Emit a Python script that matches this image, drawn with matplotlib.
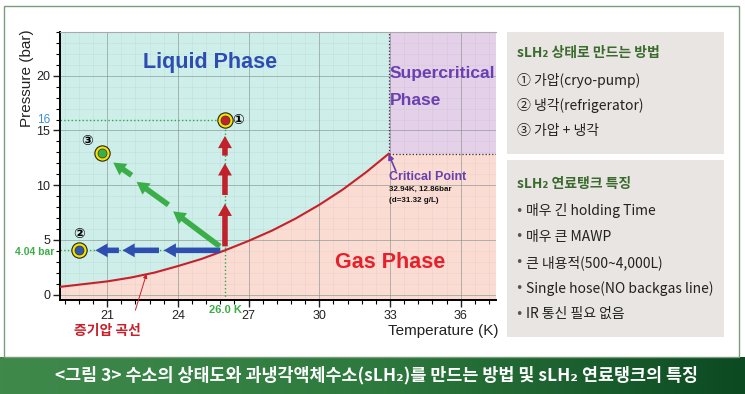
import numpy as np
import matplotlib
matplotlib.use('Agg')
import matplotlib.pyplot as plt
from matplotlib.patches import Rectangle, FancyArrowPatch
from matplotlib.ticker import MultipleLocator
import matplotlib.transforms as mtransforms

plt.rcParams['font.family'] = ['Liberation Sans', 'Noto Sans CJK KR', 'DejaVu Sans']
KR = ['Noto Sans CJK KR', 'DejaVu Sans']

# 증기압 곡선 (읽은 값)
vap_T = [19, 20, 21, 22, 23, 24, 25, 26, 27, 28, 29, 30, 31, 32, 32.94]
vap_P = [0.7, 0.95, 1.2, 1.55, 2.0, 2.6, 3.25, 4.04, 4.9, 5.85, 6.95, 8.2, 9.6, 11.2, 12.86]
crit_T, crit_P = 32.94, 12.86

# 상태점 ① ② ③
pt_T = [26.0, 19.8, 20.8]
pt_P = [16.0, 4.04, 12.9]
pt_col = ['#c8202a', '#2f55b5', '#3cae49']
pt_lab = ['①', '②', '③']
lab_T = [26.55, 19.82, 20.13]
lab_P = [16.0, 5.5, 14.0]

start_T, start_P = 26.0, 4.04

# 화살표 구간 (시작, 끝)
red_arrows = [((26, 4.4), (26, 8.3)), ((26, 9.1), (26, 12.0)), ((26, 12.7), (26, 14.5))]
blue_arrows = [((25.8, 4.04), (23.4, 4.04)), ((23.2, 4.04), (21.65, 4.04)), ((21.5, 4.04), (20.5, 4.04))]
green_arrows = [((25.78, 4.4), (23.8, 7.6)), ((23.6, 8.2), (22.25, 10.3)), ((22.04, 10.9), (21.26, 12.06))]

x_ticks = [21, 24, 27, 30, 33, 36]
y_ticks = [0, 5, 10, 15, 20]
xlim = (19, 37.5)
ylim = (-0.5, 24)

box1_title = 'sLH₂ 상태로 만드는 방법'
box1_items = ['① 가압(cryo-pump)', '② 냉각(refrigerator)', '③ 가압 + 냉각']
box2_title = 'sLH₂ 연료탱크 특징'
box2_items = ['매우 긴 holding Time', '매우 큰 MAWP', '큰 내용적(500~4,000L)',
              'Single hose(NO backgas line)', 'IR 통신 필요 없음']
caption = '<그림 3> 수소의 상태도와 과냉각액체수소(sLH₂)를 만드는 방법 및 sLH₂ 연료탱크의 특징'

fig = plt.figure(figsize=(7.45, 3.94), dpi=100)
fig.patch.set_facecolor('white')

# outer frame
fig.patches.append(Rectangle((4/745, 1-357/394), 735/745, 351/394, transform=fig.transFigure,
                             fill=False, edgecolor='#7d9a7d', lw=1.0))

ax = fig.add_axes([60/745, 1-300/394, 436/745, 268/394])
ax.set_facecolor('#cdeee9')
ax.set_xlim(*xlim)
ax.set_ylim(*ylim)

# regions
ax.fill_between(vap_T, ylim[0], vap_P, color='#fbdcd3', lw=0, zorder=0.5)
ax.fill_between([crit_T, xlim[1]], ylim[0], crit_P, color='#fbdcd3', lw=0, zorder=0.5)
ax.fill_between([crit_T, xlim[1]], crit_P, ylim[1], color='#e4d0e9', lw=0, zorder=0.5)
ax.plot([crit_T, crit_T], [crit_P, ylim[1]], ls=':', color='#333333', lw=0.9, zorder=2)
ax.plot([crit_T, xlim[1]], [crit_P, crit_P], ls=':', color='#333333', lw=0.9, zorder=2)

ax.xaxis.set_minor_locator(MultipleLocator(0.6))
ax.yaxis.set_minor_locator(MultipleLocator(1))
ax.set_xticks(x_ticks)
ax.set_yticks(y_ticks)
ax.grid(which='major', color='#7f8f8c', lw=0.7, alpha=0.6, zorder=1)
ax.grid(which='minor', color='#9aa8a6', lw=0.4, alpha=0.2, zorder=1)
ax.set_axisbelow(True)
ax.tick_params(which='major', direction='out', length=5, width=1, labelsize=9, colors='#222222', pad=2)
ax.tick_params(which='minor', direction='out', length=3, width=0.8)
ax.spines['right'].set_visible(False)
ax.spines['top'].set_color('#aaaaaa')
ax.spines['left'].set_linewidth(1.4)
ax.spines['bottom'].set_linewidth(1.4)

# vapor curve
ax.plot(vap_T, vap_P, color='#c8202a', lw=1.5, zorder=3)

# guide lines
ax.plot([xlim[0], pt_T[0]], [pt_P[0], pt_P[0]], ls=':', color='#2fa84a', lw=1, zorder=2)
ax.plot([start_T, start_T], [ylim[0], pt_P[0]], ls=':', color='#2fa84a', lw=1, zorder=2)
ax.plot([xlim[0], start_T], [start_P, start_P], ls=':', color='#2fa84a', lw=1, zorder=2)

def draw_arrows(segs, color):
    for (x0, y0), (x1, y1) in segs:
        a = FancyArrowPatch((x0, y0), (x1, y1),
                            arrowstyle='simple,head_width=1.25,head_length=1.1,tail_width=0.5',
                            mutation_scale=8, color=color, lw=0, shrinkA=0, shrinkB=0, zorder=4)
        ax.add_patch(a)

draw_arrows(red_arrows, '#c0212b')
draw_arrows(blue_arrows, '#2f4fb0')
draw_arrows(green_arrows, '#3cae49')

for t, p, c in zip(pt_T, pt_P, pt_col):
    ax.plot(t, p, 'o', ms=11, mfc='#f3e500', mec='#222222', mew=0.8, zorder=5)
    ax.plot(t, p, 'o', ms=6.5, mfc=c, mec='#333333', mew=0.5, zorder=6)
for t, p, l in zip(lab_T, lab_P, pt_lab):
    ax.text(t, p, l, fontsize=10, ha='center', va='center', fontweight='bold',
            family=['DejaVu Sans'], zorder=6)

# phase labels
ax.text(25.35, 21.2, 'Liquid Phase', color='#2e4db3', fontsize=15.5, fontweight='bold',
        ha='center', va='center', zorder=6)
ax.text(33.0, 20.2, 'Supercritical', color='#6a3fb0', fontsize=12.5, fontweight='bold',
        ha='left', va='center', zorder=6)
ax.text(33.0, 17.7, 'Phase', color='#6a3fb0', fontsize=12.5, fontweight='bold',
        ha='left', va='center', zorder=6)
ax.text(33.0, 2.9, 'Gas Phase', color='#e8202a', fontsize=15.5, fontweight='bold',
        ha='center', va='center', zorder=6)

# critical point
ax.annotate('', xy=(crit_T, crit_P), xytext=(33.25, 11.3),
            arrowprops=dict(arrowstyle='-|>', color='#6a3fb0', lw=1.2, mutation_scale=8,
                            shrinkA=0, shrinkB=0), zorder=6)
ax.text(32.95, 10.75, 'Critical Point', color='#6a3fb0', fontsize=9, fontweight='bold',
        ha='left', va='center', zorder=6)
ax.text(32.95, 9.6, '32.94K, 12.86bar', color='#111111', fontsize=5.8, fontweight='bold',
        ha='left', va='center', zorder=6)
ax.text(32.95, 8.6, '(d=31.32 g/L)', color='#111111', fontsize=5.8, fontweight='bold',
        ha='left', va='center', zorder=6)

# vapor curve label
ax.annotate('증기압 곡선', xy=(22.67, 1.88), xytext=(21.03, -3.3), annotation_clip=False,
            color='#c8202a', fontsize=10, fontweight='bold', family=KR, ha='center', va='center',
            arrowprops=dict(arrowstyle='-|>', color='#c8202a', lw=0.7, mutation_scale=6,
                            shrinkA=8, shrinkB=0, relpos=(0.85, 1.0)))

# special tick labels
ty = mtransforms.blended_transform_factory(ax.transAxes, ax.transData)
tx = mtransforms.blended_transform_factory(ax.transData, ax.transAxes)
ax.text(-0.022, pt_P[0], '16', transform=ty, color='#3a8fd8', fontsize=8.5,
        ha='right', va='center')
ax.text(-0.014, start_P - 0.15, '4.04 bar', transform=ty, color='#3cae49', fontsize=7.5,
        fontweight='bold', ha='right', va='center')
ax.text(start_T, -0.02, '26.0 K', transform=tx, color='#3cae49', fontsize=8, fontweight='bold',
        ha='center', va='top')

fig.text(27/745, 1-78/394, 'Pressure (bar)', rotation=90, fontsize=11, ha='center', va='center',
         color='#222222')
fig.text(498/745, 1-331/394, 'Temperature (K)', fontsize=11, ha='right', va='center',
         color='#222222')

# right panel
box_col = '#e9e5e2'
fig.patches.append(Rectangle((507/745, 1-154/394), 217/745, 122/394, transform=fig.transFigure,
                             color=box_col, lw=0))
fig.patches.append(Rectangle((507/745, 1-337/394), 217/745, 177/394, transform=fig.transFigure,
                             color=box_col, lw=0))
fig.text(517/745, 1-53/394, box1_title, family=KR, fontsize=10, fontweight='bold',
         color='#3b6a2e', va='center')
for i, s in enumerate(box1_items):
    fig.text(517/745, 1-(80+25.5*i)/394, s, family=KR, fontsize=10, color='#222222', va='center')
fig.text(517/745, 1-184/394, box2_title, family=KR, fontsize=10, fontweight='bold',
         color='#3b6a2e', va='center')
for i, s in enumerate(box2_items):
    y = 1-(211+25.8*i)/394
    fig.text(519/745, y, '•', family=['DejaVu Sans'], fontsize=9, color='#555555', va='center', ha='center')
    fig.text(526/745, y, s, family=KR, fontsize=10, color='#222222', va='center')

# caption banner
bax = fig.add_axes([0, 0, 1, 37/394])
grad = np.linspace(0, 1, 256).reshape(1, -1)
cmap = matplotlib.colors.LinearSegmentedColormap.from_list('g', ['#3f8a4b', '#2e7a3e', '#0c4a22'])
bax.imshow(grad, aspect='auto', cmap=cmap, extent=[0, 1, 0, 1])
bax.set_axis_off()
bax.text(0.505, 0.5, caption, family=KR, fontsize=12.5, fontweight='bold', color='white',
         ha='center', va='center', transform=bax.transAxes)

fig.savefig('out.png', dpi=100)
